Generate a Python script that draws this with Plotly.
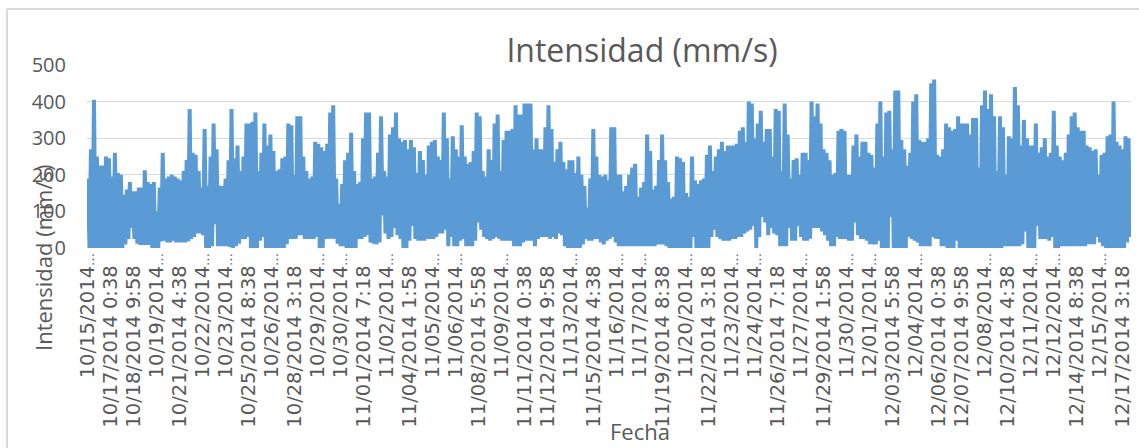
import plotly.graph_objects as go

# Chart text
title_text = "Intensidad (mm/s)"
y_title = "Intensidad (mm/s)"
x_title = "Fecha"

# Category axis labels, as printed (one every 2000 minutes)
tick_labels = [
    "10/15/2014…", "10/17/2014 0:38", "10/18/2014 9:58", "10/19/2014…", "10/21/2014 4:38",
    "10/22/2014…", "10/23/2014…", "10/25/2014 8:38", "10/26/2014…", "10/28/2014 3:18",
    "10/29/2014…", "10/30/2014…", "11/01/2014 7:18", "11/02/2014…", "11/04/2014 1:58",
    "11/05/2014…", "11/06/2014…", "11/08/2014 5:58", "11/09/2014…", "11/11/2014 0:38",
    "11/12/2014 9:58", "11/13/2014…", "11/15/2014 4:38", "11/16/2014…", "11/17/2014…",
    "11/19/2014 8:38", "11/20/2014…", "11/22/2014 3:18", "11/23/2014…", "11/24/2014…",
    "11/26/2014 7:18", "11/27/2014…", "11/29/2014 1:58", "11/30/2014…", "12/01/2014…",
    "12/03/2014 5:58", "12/04/2014…", "12/06/2014 0:38", "12/07/2014 9:58", "12/08/2014…",
    "12/10/2014 4:38", "12/11/2014…", "12/12/2014…", "12/14/2014 8:38", "12/15/2014…",
    "12/17/2014 3:18",
]
tick_step_minutes = 2000
sample_step_minutes = 260

# Daily-cycle maxima
high_part1 = [
    190, 270, 405, 250, 225, 225, 250, 245, 195, 260, 205, 200, 145, 160, 180, 155, 155, 165, 165, 212,
    180, 175, 180, 100, 165, 260, 190, 195, 200, 195, 190, 185, 210, 240, 380, 260, 255, 210, 165, 325,
    170, 250, 340, 270, 170, 170, 190, 240, 380, 245, 280, 210, 250, 340, 340, 345, 370, 210, 260, 340,
    280, 310, 265, 210, 215, 245, 250, 340, 335, 200, 360, 360, 250, 210, 190, 195, 290, 285, 275, 265,
    285, 370, 390, 190, 120, 175, 240, 260, 315, 210, 175, 180, 300, 370, 370, 190, 195, 260, 360, 210,
    195, 310, 330, 370,
]
high_part2 = [
    300, 290, 295, 270, 295, 275, 205, 265, 240, 200, 280, 290, 295, 250, 240, 370, 300, 190, 305, 270,
    250, 335, 250, 230, 235, 265, 370, 360, 210, 195, 270, 240, 340, 365, 210, 295, 320, 320, 325, 390,
    365, 365, 395, 395, 395, 270, 300, 270, 270, 330, 390, 325, 235, 270, 290, 235, 215, 240, 240, 205,
    250, 200, 170, 110, 190, 325, 250, 200, 195, 200, 185, 330, 330, 200, 200, 155, 170, 200, 220, 230,
    140, 165, 180, 310, 265, 160, 170, 240, 310, 240, 180, 135, 140, 250, 245, 235, 150, 140, 250, 185,
    175, 185, 190, 255, 280, 210, 250, 270, 290, 265, 280, 280, 280, 285, 320, 330, 290, 400, 395, 300,
    340, 375, 290, 325, 325, 250, 380,
]
high_part3 = [
    375, 210, 395, 310, 190, 240, 245, 200, 260, 260, 240, 400, 360, 395, 340, 270, 260, 240, 200, 205,
    320, 325, 320, 200, 200, 280, 310, 250, 290, 290, 260, 255, 220, 340, 400, 250, 370, 375, 270, 430,
    430, 295, 270, 225, 260, 400, 420, 295, 290, 290, 300, 450, 460, 255, 250, 270, 340, 330, 320, 325,
    360, 340, 340, 340, 310, 355, 355, 220, 390, 430, 380, 420, 360, 210, 360, 330, 200, 305, 300, 440,
    390, 280, 350, 300, 280, 280, 340, 260, 275, 300, 250, 260, 375, 280, 250, 240, 260, 310, 360, 370,
    330, 320, 320, 280, 275, 265, 270, 200, 255, 260, 305, 310, 400, 290, 280, 270, 305, 300,
]

# Daily-cycle minima
low_part1 = [
    0, 0, 0, 0, 0, 0, 0, 0, 0, 0, 0, 0, 10, 25, 55, 25, 12, 8, 8, 8,
    8, 0, 0, 0, 18, 20, 15, 15, 20, 15, 15, 15, 15, 18, 25, 30, 40, 40, 35, 0,
    0, 5, 65, 5, 5, 5, 5, 3, 0, 5, 12, 25, 25, 30, 0, 0, 0, 20, 30, 0,
    0, 0, 0, 0, 0, 0, 10, 25, 25, 25, 35, 35, 25, 25, 25, 25, 30, 0, 0, 25,
    25, 25, 25, 12, 5, 5, 0, 0, 0, 0, 25, 25, 30, 35, 15, 12, 10, 15, 90, 40,
    25, 30, 55, 35,
]
low_part2 = [
    25, 0, 0, 20, 60, 25, 20, 20, 20, 25, 25, 25, 30, 40, 40, 50, 5, 30, 5, 5,
    20, 25, 5, 5, 5, 20, 70, 50, 30, 25, 20, 25, 30, 25, 20, 20, 20, 20, 5, 5,
    5, 15, 20, 20, 20, 5, 25, 30, 30, 30, 25, 30, 25, 40, 35, 5, 0, 0, 0, 0,
    0, 10, 25, 20, 20, 25, 25, 15, 10, 20, 25, 30, 15, 5, 5, 5, 5, 5, 5, 5,
    5, 5, 5, 5, 5, 5, 10, 10, 10, 5, 0, 0, 0, 0, 0, 0, 0, 0, 30, 0,
    0, 0, 0, 0, 30, 50, 30, 25, 20, 20, 20, 25, 25, 30, 30, 40, 45, 50, 60, 0,
    30, 85, 70, 35, 55, 40, 35,
]
low_part3 = [
    5, 5, 5, 55, 20, 20, 60, 30, 20, 20, 25, 55, 55, 55, 45, 35, 20, 5, 5, 30,
    25, 25, 25, 20, 20, 70, 35, 25, 25, 20, 10, 10, 10, 20, 0, 0, 0, 85, 0, 0,
    0, 0, 0, 30, 25, 20, 15, 5, 5, 5, 5, 30, 25, 25, 5, 5, 0, 0, 0, 20,
    0, 0, 0, 0, 0, 0, 0, 0, 0, 0, 0, 0, 0, 0, 0, 5, 5, 5, 5, 5,
    5, 10, 45, 0, 0, 0, 60, 25, 25, 25, 20, 30, 0, 0, 5, 5, 5, 5, 5, 5,
    5, 5, 5, 10, 10, 10, 30, 15, 5, 0, 0, 0, 0, 0, 0, 0, 15, 30,
]

highs = high_part1 + high_part2 + high_part3
lows = low_part1 + low_part2 + low_part3
assert len(highs) == len(lows), (len(highs), len(lows))

xs, ys = [], []
half = sample_step_minutes / 2
for i, (hi, lo) in enumerate(zip(highs, lows)):
    xs += [i * sample_step_minutes, i * sample_step_minutes + half]
    ys += [hi, lo]


def tick_text(label):
    """Truncated labels end in a small ellipsis; full ones stop short of the axis."""
    if label.endswith("…"):
        return label[:-1] + '<span style="font-size:13px">…</span>'
    return label + "\u00a0\u00a0"


TEXT = "#595959"
FONT = "Open Sans"
TICK_FONT = "DejaVu Sans"
GRID = "#d9d9d9"

fig = go.Figure(
    go.Scatter(
        x=xs, y=ys, mode="lines", cliponaxis=False,
        line=dict(color="#5b9bd5", width=4, shape="linear"),
        hoverinfo="skip", showlegend=False,
    )
)
fig.update_layout(
    width=1139, height=448,
    margin=dict(l=87, r=8, t=65, b=200, autoexpand=False),
    paper_bgcolor="white", plot_bgcolor="white",
    font=dict(family=FONT, color=TEXT),
    title=dict(
        text=title_text, xref="container", yref="container",
        x=642 / 1139, y=1 - 51 / 448, xanchor="center", yanchor="middle",
        font=dict(size=32, color=TEXT, family=FONT),
    ),
    xaxis=dict(
        range=[-87, 90696], tickmode="array",
        tickvals=[k * tick_step_minutes for k in range(len(tick_labels))],
        ticktext=[tick_text(t) for t in tick_labels], tickangle=-90, ticks="", showgrid=False,
        zeroline=False, showline=False,
        tickfont=dict(size=19.5, color=TEXT, family=TICK_FONT),
    ),
    yaxis=dict(
        range=[0, 500], tickvals=[0, 100, 200, 300, 400, 500], showgrid=True,
        gridcolor=GRID, gridwidth=1, zeroline=False, ticks="", ticklabelstandoff=20,
        tickfont=dict(size=20, color=TEXT, family=FONT),
    ),
    annotations=[
        dict(text=y_title, xref="paper", yref="paper", x=-44 / 1044, y=(248 - 258) / 183,
             xanchor="center", yanchor="middle", textangle=-90, showarrow=False,
             font=dict(size=22, color=TEXT, family=FONT)),
        dict(text=x_title, xref="paper", yref="paper", x=(640 - 87) / 1044, y=(248 - 431) / 183,
             xanchor="center", yanchor="middle", showarrow=False,
             font=dict(size=22, color=TEXT, family=FONT)),
    ],
    shapes=[
        dict(type="line", xref="paper", yref="paper", x0=-80 / 1044, x1=-80 / 1044,
             y0=(248 - 9) / 183, y1=(248 - 448) / 183, line=dict(color=GRID, width=2)),
        dict(type="line", xref="paper", yref="paper", x0=-80 / 1044, x1=1052 / 1044,
             y0=(248 - 9) / 183, y1=(248 - 9) / 183, line=dict(color=GRID, width=2)),
    ],
)
fig.write_html("out.html", config={"displayModeBar": False},
               post_script="document.body.style.margin='0';")
